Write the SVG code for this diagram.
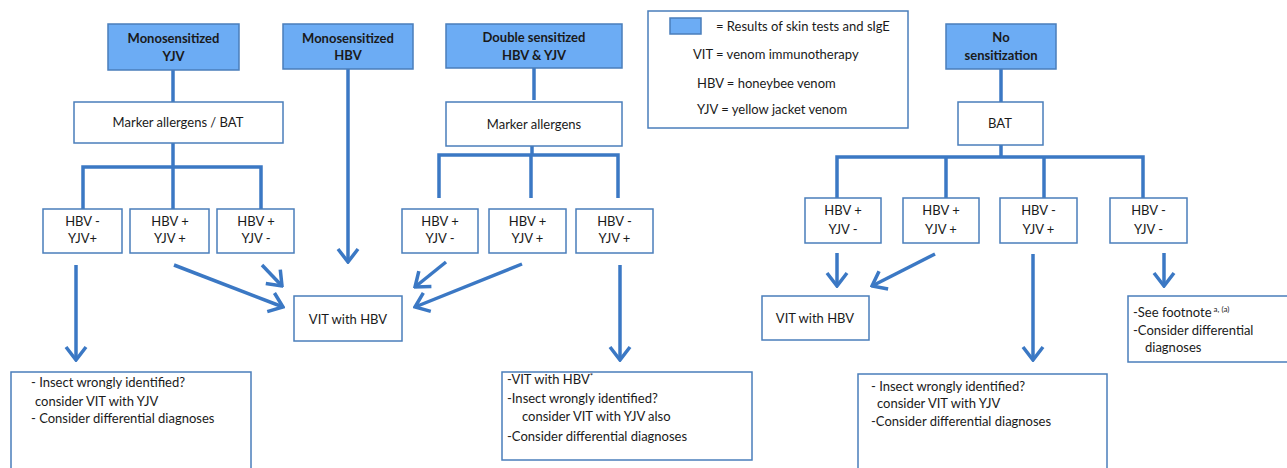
<svg xmlns="http://www.w3.org/2000/svg" width="1287" height="468" viewBox="0 0 1287 468">
<defs>
<style>
.blue{fill:#6cacf4;stroke:#4a7ebb;stroke-width:1.5}
.box{fill:#ffffff;stroke:#4a7ebb;stroke-width:1.5}
.t{font-family:Lato,"Liberation Sans",sans-serif;font-size:13px;fill:#1a1a1a}
.c{text-anchor:middle}
.b{font-weight:bold}
.s{font-size:12px}
.ln{fill:none;stroke:#3b78c4;stroke-width:3.5}
.ar{fill:none;stroke:#3b78c4;stroke-width:3.5;marker-end:url(#ah)}
</style>
<marker id="ah" markerUnits="userSpaceOnUse" viewBox="-16 -12 18 24" refX="0" refY="0" markerWidth="18" markerHeight="24" orient="auto">
<path d="M-13,-10 L0,0 L-13,10" fill="none" stroke="#3b78c4" stroke-width="3.5"/>
</marker>
</defs>

<g id="connectors">
<!-- left group -->
<path class="ln" d="M173,70 V102"/>
<path class="ln" d="M173,143 V167"/>
<path class="ln" d="M83,209 V167 H261 V209"/>
<path class="ln" d="M173,167 V209"/>
<path class="ar" d="M76,265 V360"/>
<path class="ar" d="M174,265 L283,307"/>
<path class="ar" d="M262,265 L282,286"/>
<!-- mono HBV -->
<path class="ar" d="M348,69 V262"/>
<!-- double group -->
<path class="ln" d="M534,68 V100"/>
<path class="ln" d="M532,146 V155"/>
<path class="ln" d="M439,198 V155 H618 V198"/>
<path class="ln" d="M531,155 V198"/>
<path class="ar" d="M446,262 L415,287"/>
<path class="ar" d="M522,264 L415,307"/>
<path class="ar" d="M620,265 V360"/>
<!-- no sensitization group -->
<path class="ln" d="M1001,69 V102"/>
<path class="ln" d="M1001,145 V157"/>
<path class="ln" d="M837,198 V157 H1143 V198"/>
<path class="ln" d="M946,157 V198"/>
<path class="ln" d="M1044,157 V198"/>
<path class="ar" d="M837,253 V286"/>
<path class="ar" d="M935,254 L872,286"/>
<path class="ar" d="M1033,254 V360"/>
<path class="ar" d="M1164,253 V286"/>
</g>

<g id="mono-yjv"><rect class="blue" x="108" y="24" width="131" height="46"/>
<text class="t c b" x="173.5" y="43">Monosensitized</text><text class="t c b" x="173.5" y="61">YJV</text></g>
<g id="mono-hbv"><rect class="blue" x="283" y="24" width="130" height="45"/>
<text class="t c b" x="348" y="43">Monosensitized</text><text class="t c b" x="348" y="60">HBV</text></g>
<g id="double"><rect class="blue" x="446" y="24" width="176" height="44"/>
<text class="t c b" x="534" y="42">Double sensitized</text><text class="t c b" x="534" y="60">HBV &amp; YJV</text></g>
<g id="legend"><rect class="box" x="648" y="11" width="260" height="117"/>
<rect class="blue" x="670" y="18" width="31" height="16"/>
<text class="t" x="716" y="31">= Results of skin tests and sIgE</text>
<text class="t" x="693" y="59">VIT = venom immunotherapy</text>
<text class="t" x="697" y="88">HBV = honeybee venom</text>
<text class="t" x="697" y="114">YJV = yellow jacket venom</text></g>
<g id="no-sens"><rect class="blue" x="946" y="24" width="110" height="45"/>
<text class="t c b" x="1001" y="42">No</text><text class="t c b" x="1001" y="60">sensitization</text></g>

<g id="marker-bat"><rect class="box" x="74" y="102" width="209" height="41"/><text class="t c" x="178" y="127">Marker allergens / BAT</text></g>
<g id="marker"><rect class="box" x="446" y="102" width="176" height="44"/><text class="t c" x="534" y="129">Marker allergens</text></g>
<g id="bat"><rect class="box" x="958" y="102" width="85" height="43"/><text class="t c" x="1000" y="128">BAT</text></g>

<g id="l1"><rect class="box" x="43" y="209" width="79" height="44"/><text class="t c" x="82.5" y="226">HBV -</text><text class="t c" x="82.5" y="243">YJV+</text></g>
<g id="l2"><rect class="box" x="130" y="209" width="79" height="44"/><text class="t c" x="170" y="226">HBV +</text><text class="t c" x="170" y="243">YJV +</text></g>
<g id="l3"><rect class="box" x="217" y="209" width="77" height="44"/><text class="t c" x="256" y="226">HBV +</text><text class="t c" x="256" y="243">YJV -</text></g>

<g id="d1"><rect class="box" x="402" y="209" width="76" height="44"/><text class="t c" x="440" y="226">HBV +</text><text class="t c" x="440" y="243">YJV -</text></g>
<g id="d2"><rect class="box" x="489" y="209" width="77" height="44"/><text class="t c" x="527.5" y="226">HBV +</text><text class="t c" x="527.5" y="243">YJV +</text></g>
<g id="d3"><rect class="box" x="576" y="209" width="77" height="44"/><text class="t c" x="614.5" y="226">HBV -</text><text class="t c" x="614.5" y="243">YJV +</text></g>

<g id="n1"><rect class="box" x="805" y="198" width="76" height="45"/><text class="t c" x="843" y="215">HBV +</text><text class="t c" x="843" y="234">YJV -</text></g>
<g id="n2"><rect class="box" x="903" y="198" width="76" height="45"/><text class="t c" x="941" y="215">HBV +</text><text class="t c" x="941" y="234">YJV +</text></g>
<g id="n3"><rect class="box" x="1000" y="198" width="77" height="45"/><text class="t c" x="1038.5" y="215">HBV -</text><text class="t c" x="1038.5" y="234">YJV +</text></g>
<g id="n4"><rect class="box" x="1110" y="198" width="77" height="45"/><text class="t c" x="1148.5" y="215">HBV -</text><text class="t c" x="1148.5" y="234">YJV -</text></g>

<g id="vit-left"><rect class="box" x="294" y="296" width="108" height="45"/><text class="t c" x="348" y="324">VIT with HBV</text></g>
<g id="vit-right"><rect class="box" x="762" y="296" width="107" height="44"/><text class="t c" x="815" y="323">VIT with HBV</text></g>

<g id="out-left"><rect class="box" x="11" y="372" width="240" height="110"/>
<text class="t" x="31" y="387">- Insect wrongly identified?</text>
<text class="t" x="35" y="406">consider VIT with YJV</text>
<text class="t" x="31" y="423">- Consider differential diagnoses</text></g>
<g id="out-mid"><rect class="box" x="502" y="372" width="250" height="88"/>
<text class="t" x="507" y="384">-VIT with HBV<tspan font-size="8" dy="-5">*</tspan></text>
<text class="t" x="507" y="403">-Insect wrongly identified?</text>
<text class="t" x="522" y="421">consider VIT with YJV also</text>
<text class="t" x="507" y="441">-Consider differential diagnoses</text></g>
<g id="out-right"><rect class="box" x="858" y="374" width="249" height="110"/>
<text class="t" x="871" y="391">- Insect wrongly identified?</text>
<text class="t" x="877" y="408">consider VIT with YJV</text>
<text class="t" x="871" y="426">-Consider differential diagnoses</text></g>
<g id="footnote"><rect class="box" x="1128" y="296" width="170" height="66"/>
<text class="t" x="1133" y="317">-See footnote<tspan font-size="8" dy="-5"> a, (a)</tspan></text>
<text class="t" x="1133" y="335">-Consider differential</text>
<text class="t" x="1145" y="352">diagnoses</text></g>
</svg>
